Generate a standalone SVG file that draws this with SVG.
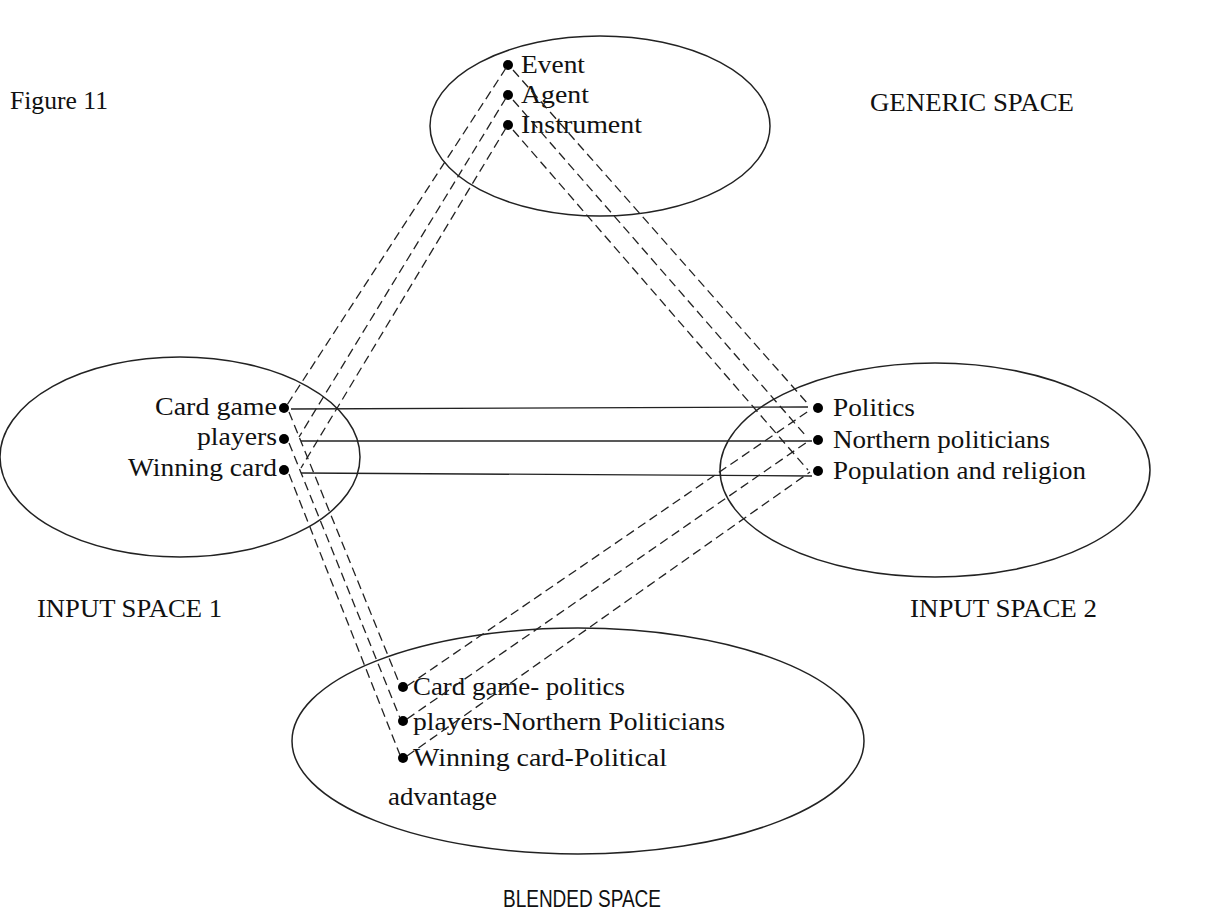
<svg xmlns="http://www.w3.org/2000/svg" width="1215" height="911" viewBox="0 0 1215 911">
<style>
.sp{fill:none;stroke:#222;stroke-width:1.5}
.t{font-family:"Liberation Serif","Times New Roman",serif;font-size:26px;fill:#111}
.s{font-family:"Liberation Sans",Arial,sans-serif;font-size:23px;fill:#111}
.d{fill:#000}
.dash{stroke:#222;stroke-width:1.3;stroke-dasharray:9 5;fill:none}
.sol{stroke:#222;stroke-width:1.3;fill:none}
</style>
<rect width="1215" height="911" fill="#fff"/>
<text class="t" x="10" y="109" textLength="98" lengthAdjust="spacingAndGlyphs">Figure 11</text>
<text class="t" x="870" y="111" textLength="204" lengthAdjust="spacingAndGlyphs">GENERIC SPACE</text>
<text class="t" x="37" y="617" textLength="185" lengthAdjust="spacingAndGlyphs">INPUT SPACE 1</text>
<text class="t" x="910" y="617" textLength="187" lengthAdjust="spacingAndGlyphs">INPUT SPACE 2</text>
<text class="s" x="503" y="907" textLength="158" lengthAdjust="spacingAndGlyphs">BLENDED SPACE</text>
<g id="generic">
<ellipse class="sp" cx="600" cy="126" rx="170" ry="90"/>
<circle class="d" cx="508" cy="65" r="5"/>
<circle class="d" cx="508" cy="95" r="5"/>
<circle class="d" cx="508" cy="125" r="5"/>
<text class="t" x="521" y="73" textLength="64" lengthAdjust="spacingAndGlyphs">Event</text>
<text class="t" x="521" y="103" textLength="68" lengthAdjust="spacingAndGlyphs">Agent</text>
<text class="t" x="521" y="133" textLength="121" lengthAdjust="spacingAndGlyphs">Instrument</text>
</g>
<g id="input1">
<ellipse class="sp" cx="180" cy="457" rx="180" ry="100"/>
<circle class="d" cx="284" cy="408" r="5"/>
<circle class="d" cx="284" cy="439" r="5"/>
<circle class="d" cx="284" cy="470" r="5"/>
<text class="t" x="277" y="415" text-anchor="end" textLength="122" lengthAdjust="spacingAndGlyphs">Card game</text>
<text class="t" x="277" y="445" text-anchor="end" textLength="80" lengthAdjust="spacingAndGlyphs">players</text>
<text class="t" x="277" y="476" text-anchor="end" textLength="149" lengthAdjust="spacingAndGlyphs">Winning card</text>
</g>
<g id="input2">
<ellipse class="sp" cx="935" cy="470" rx="215" ry="107"/>
<circle class="d" cx="818" cy="408" r="5"/>
<circle class="d" cx="818" cy="440" r="5"/>
<circle class="d" cx="818" cy="471" r="5"/>
<text class="t" x="833" y="416" textLength="82" lengthAdjust="spacingAndGlyphs">Politics</text>
<text class="t" x="833" y="448" textLength="217" lengthAdjust="spacingAndGlyphs">Northern politicians</text>
<text class="t" x="833" y="479" textLength="253" lengthAdjust="spacingAndGlyphs">Population and religion</text>
</g>
<g id="blended">
<ellipse class="sp" cx="578" cy="741" rx="286" ry="113"/>
<circle class="d" cx="403" cy="687" r="5"/>
<circle class="d" cx="403" cy="721" r="5"/>
<circle class="d" cx="403" cy="758" r="5"/>
<text class="t" x="413" y="695" textLength="212" lengthAdjust="spacingAndGlyphs">Card game- politics</text>
<text class="t" x="413" y="730" textLength="312" lengthAdjust="spacingAndGlyphs">players-Northern Politicians</text>
<text class="t" x="413" y="766" textLength="254" lengthAdjust="spacingAndGlyphs">Winning card-Political</text>
<text class="t" x="388" y="805" textLength="109" lengthAdjust="spacingAndGlyphs">advantage</text>
</g>
<g id="connectors">
<line class="dash" x1="506" y1="68" x2="287" y2="405"/>
<line class="dash" x1="506" y1="98" x2="299" y2="437"/>
<line class="dash" x1="506" y1="128" x2="301" y2="468"/>
<line class="dash" x1="513" y1="70" x2="808" y2="404"/>
<line class="dash" x1="513" y1="100" x2="806" y2="436"/>
<line class="dash" x1="513" y1="130" x2="808" y2="470"/>
<line class="dash" x1="289" y1="412" x2="400" y2="685"/>
<line class="dash" x1="289" y1="443" x2="400" y2="718"/>
<line class="dash" x1="289" y1="474" x2="400" y2="755"/>
<line class="dash" x1="407" y1="686" x2="810" y2="410"/>
<line class="dash" x1="407" y1="719" x2="810" y2="440"/>
<line class="dash" x1="407" y1="756" x2="810" y2="472"/>
<line class="sol" x1="291" y1="409" x2="808" y2="407"/>
<line class="sol" x1="301" y1="441" x2="812" y2="441"/>
<line class="sol" x1="301" y1="473" x2="812" y2="476"/>
</g>
</svg>
